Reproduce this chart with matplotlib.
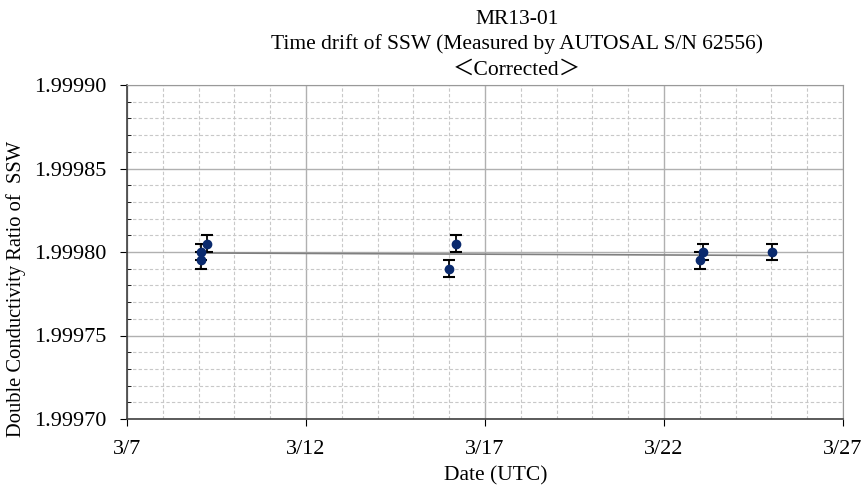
import numpy as np
import matplotlib
matplotlib.use("Agg")
import matplotlib.pyplot as plt
from matplotlib.ticker import MultipleLocator, FuncFormatter

# days counted from 3/0 (x) and ratio values
day = [9.06, 9.06, 9.24, 16.0, 16.19, 23.0, 23.08, 25.03]
ratio = [1.999795, 1.999800, 1.999805, 1.999790, 1.999805, 1.999795, 1.999800, 1.999800]
err = [0.000005] * len(day)
x_ticks = [7, 12, 17, 22, 27]
x_labels = ["3/7", "3/12", "3/17", "3/22", "3/27"]

plt.rcParams['font.family'] = ['Liberation Serif', 'Noto Sans CJK JP']
fs = 15.5
fig = plt.figure(figsize=(8.62, 4.91), dpi=100)
ax = fig.add_axes([127 / 862, 1 - 419 / 491, 716 / 862, 334 / 491])

# trend line
coef = np.polyfit(day, ratio, 1)
xx = np.array([min(day), max(day)])
ax.plot(xx, np.polyval(coef, xx), color="#808080", lw=1.2, zorder=2)

ax.errorbar(day, ratio, yerr=err, fmt="o", color="#0a2a6e", ms=6,
            ecolor="black", elinewidth=1.3, capsize=4.5, capthick=1.5, zorder=3)

ax.set_xlim(7, 27)
ax.set_ylim(1.99970, 1.99990)
ax.set_xticks(x_ticks)
ax.set_xticklabels(x_labels)
ax.xaxis.set_minor_locator(MultipleLocator(1))
ax.yaxis.set_major_locator(MultipleLocator(0.00005))
ax.yaxis.set_minor_locator(MultipleLocator(0.00001))
ax.yaxis.set_major_formatter(FuncFormatter(lambda v, p: f"{v:.5f}"))

ax.grid(which="major", color="#b0b0b0", lw=1.0)
ax.grid(which="minor", color="#c8c8c8", lw=0.8, ls=(0, (3, 2)))
ax.set_axisbelow(True)

ax.tick_params(which="major", direction="out", length=5, labelsize=16)
ax.tick_params(axis="y", which="major", pad=10)
ax.tick_params(axis="x", which="major", pad=10)
ax.tick_params(which="minor", direction="in", length=3)
ax.tick_params(axis="x", which="minor", length=0)
for s in ["top", "right"]:
    ax.spines[s].set_color("#999999")
for s in ["left", "bottom"]:
    ax.spines[s].set_color("#404040")
    ax.spines[s].set_linewidth(1.2)

fig.text(496 / 862, 1 - 476 / 491, "Date (UTC)", ha="center", va="center", fontsize=fs)
fig.text(16 / 862, 1 - 289 / 491, "Double Conductivity Ratio of  SSW",
         ha="center", va="center", rotation=90, fontsize=14.8)
cx = 517 / 862
fig.text(cx, 1 - 19 / 491, "MR13-01", ha="center", va="center", fontsize=fs)
fig.text(cx, 1 - 44 / 491, "Time drift of SSW (Measured by AUTOSAL S/N 62556)",
         ha="center", va="center", fontsize=fs)
fig.text(cx, 1 - 70 / 491, "＜Corrected＞", ha="center", va="center", fontsize=fs)

fig.savefig("out.png", dpi=100)
